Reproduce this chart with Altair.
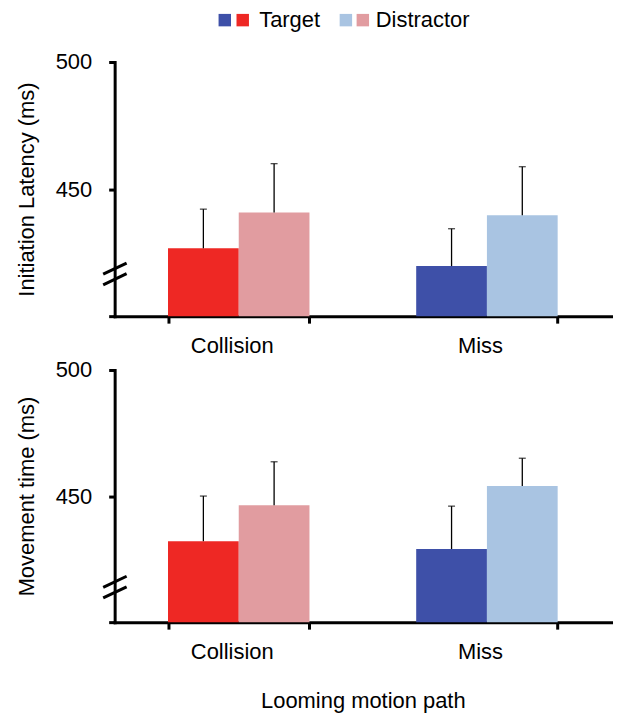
import altair as alt
import pandas as pd

# ---- data ----
categories = ["Collision", "Miss"]
conditions = ["Target", "Distractor"]
# order: Collision-Target, Collision-Distractor, Miss-Target, Miss-Distractor
latency_mean = [426.7, 440.8, 419.7, 439.7]
latency_err = [15.4, 19.2, 14.7, 19.1]
movement_mean = [432.1, 446.4, 429.0, 454.0]
movement_err = [17.9, 17.2, 17.0, 11.0]
y_ticks = [400, 450, 500]

keys = ["Collision Target", "Collision Distractor", "Miss Target", "Miss Distractor"]
colors = ["#EE2824", "#E19CA0", "#3E50A8", "#A9C4E2"]

FONT = "Liberation Sans"


def make_df(means, errs):
    rows = []
    i = 0
    for c in categories:
        for t in conditions:
            rows.append({"category": c, "condition": t, "key": f"{c} {t}",
                         "mean": means[i], "upper": means[i] + errs[i], "base": 400})
            i += 1
    return pd.DataFrame(rows)


def panel(means, errs, ytitle, xtitle, brk, with_legend, h):
    df = make_df(means, errs)
    base = alt.Chart(df)
    x = alt.X("category:N", sort=categories,
              scale=alt.Scale(paddingInner=0.43, paddingOuter=0.215),
              axis=alt.Axis(title=xtitle, labelAngle=0, tickBand="extent", tickSize=7,
                            labelPadding=12, labelOffset=-7, titlePadding=29))
    xo = alt.XOffset("condition:N", sort=conditions, scale=alt.Scale(paddingInner=0, paddingOuter=0))
    y = alt.Y("mean:Q", scale=alt.Scale(domain=[400, 500], zero=False, nice=False),
              axis=alt.Axis(title=ytitle, values=y_ticks, tickSize=6, labelPadding=17,
                            titlePadding=17,
                            labelExpr="datum.value == 400 ? '' : datum.label"))
    bars = base.mark_bar().encode(
        x=x, xOffset=xo, y=y, y2="base:Q",
        color=alt.Color("key:N", scale=alt.Scale(domain=keys, range=colors), legend=None),
    )
    err = base.mark_rule(color="black", strokeWidth=1.3).encode(
        x=x, xOffset=xo, y="mean:Q", y2="upper:Q")
    cap = base.mark_tick(color="black", orient="horizontal", size=7, thickness=1.3).encode(
        x=x, xOffset=xo, y="upper:Q")
    sep, rise = 2.1, 2.2
    one = pd.DataFrame({"k": [0]})
    brk_layers = []
    for s in (sep, -sep):
        brk_layers.append(
            alt.Chart(one).mark_rule(color="black", strokeWidth=3).encode(
                x=alt.value(-11.5), x2=alt.value(12),
                y=alt.datum(brk + s - rise), y2=alt.datum(brk + s + rise))
        )
    layers = [bars, err, cap] + brk_layers
    if with_legend:
        ly = -42
        sq = [(110.5, colors[2]), (128.5, colors[0]), (232, colors[3]), (249, colors[1])]
        for px, col in sq:
            layers.append(alt.Chart(one).mark_square(size=156, opacity=1, color=col).encode(
                x=alt.value(px), y=alt.value(ly)))
        for px, lab in [(145, conditions[0]), (262, conditions[1])]:
            layers.append(
                alt.Chart(pd.DataFrame({"label": [lab]})).mark_text(
                    align="left", baseline="middle", fontSize=22, font=FONT,
                    fontWeight="normal", color="black").encode(
                    text="label:N", x=alt.value(px), y=alt.value(ly)))
    return alt.layer(*layers).properties(width=498, height=h)


top = panel(latency_mean, latency_err, "Initiation Latency (ms)", None, 416.6, True, 255)
bottom = panel(movement_mean, movement_err, "Movement time (ms)", "Looming motion path", 413.9, False, 253)

chart = alt.vconcat(top, bottom, spacing=54, bounds="flush").properties(
    padding={"left": 7, "top": 0, "right": 5, "bottom": 5}
).configure_view(stroke=None).configure_axis(
    grid=False, domainColor="black", domainWidth=3, tickColor="black", tickWidth=3,
    labelColor="black", titleColor="black", labelFont=FONT, titleFont=FONT,
    labelFontSize=22, titleFontSize=22, titleFontWeight="normal",
    domainCap="square"
)

chart.save("out.html", embed_options={"renderer": "svg", "actions": False})
